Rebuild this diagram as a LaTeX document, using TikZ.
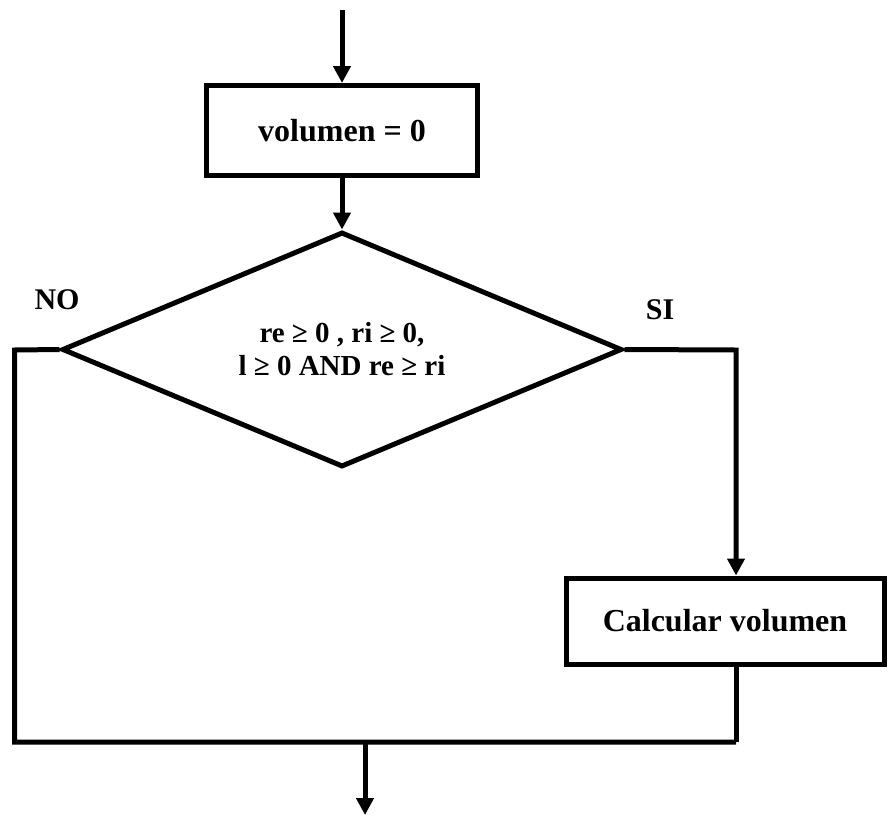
\documentclass[tikz,border=0pt]{standalone}
\usepackage{fontspec}
\setmainfont{Liberation Serif}
\usetikzlibrary{shapes.geometric,arrows.meta}
\begin{document}
\begin{tikzpicture}[x=1pt,y=-1pt,
  line width=5pt,
  flow/.style={-{Triangle[width=17pt,length=17pt]}},
  procbox/.style={draw,rectangle,inner sep=0pt,font=\fontsize{32}{36}\selectfont\bfseries},
  decision/.style={draw,diamond,aspect=2.4,inner sep=0pt,align=center,font=\fontsize{29}{33}\selectfont\bfseries},
  tag/.style={font=\fontsize{30}{34}\selectfont\bfseries}]
\useasboundingbox (0,0) rectangle (888,817);
% process boxes and the decision
\node[procbox,minimum width=271pt,minimum height=90pt] (init) at (342,130.5) {volumen = 0};
\node[decision,minimum width=560pt,minimum height=235pt] (cond) at (342,349.5)
  {re ≥ 0 , ri ≥ 0,\\ l ≥ 0 AND re ≥ ri};
\node[procbox,minimum width=318pt,minimum height=86pt] (calc) at (725,621) {Calcular volumen};
% branch labels
\node[tag] (no) at (57,300) {NO};
\node[tag] (si) at (660,310) {SI};
% junction points
\coordinate (start) at (342,10);
\coordinate (sicorner) at (736,350);
\coordinate (nocorner) at (14.5,350);
\coordinate (nobottom) at (14.5,742);
\coordinate (join) at (736,742);
\coordinate (merge) at (365,742);
\coordinate (finish) at (365,815);
% connectors
\draw[flow] (start) -- (init.north);
\draw[flow] (init.south) -- (cond.north);
\draw[flow] (cond.east) -- (sicorner) -- (calc.north -| sicorner);
\draw (calc.south -| sicorner) -- (join);
\draw[line join=miter] (cond.west) -- (nocorner) -- (nobottom) -- (join);
\draw[flow] (merge) -- (finish);
\end{tikzpicture}
\end{document}
